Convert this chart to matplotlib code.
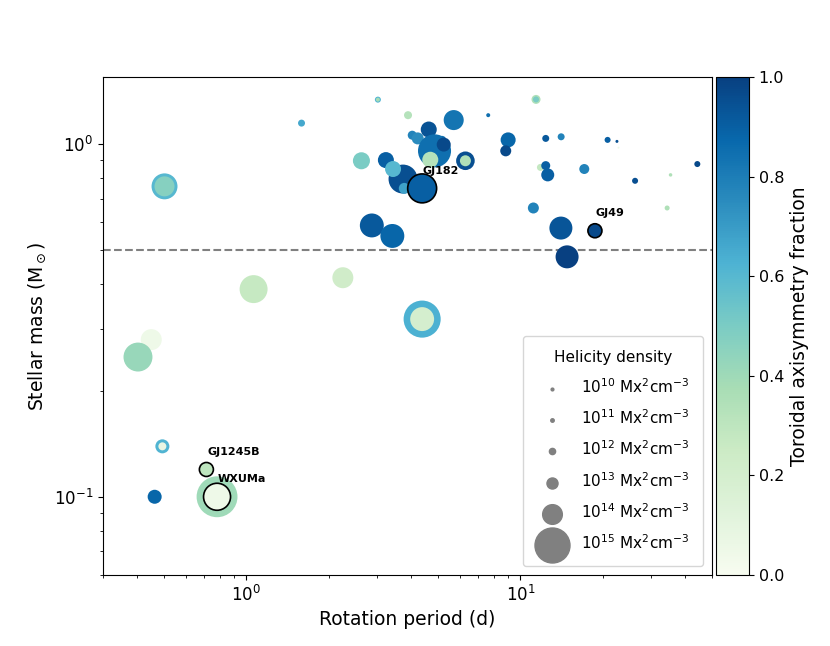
import numpy as np
import matplotlib
matplotlib.use('Agg')
import matplotlib.pyplot as plt

# main layer: rotation period (d), mass (Msun), log10 helicity density, toroidal axisym. fraction
period = [1.59, 3.02, 3.89, 0.503, 2.63, 3.23, 3.73, 3.43, 3.77,
          4.03, 4.22, 4.63, 5.71, 7.63, 4.86, 4.69, 5.18, 5.25, 6.30,
          11.4, 9.02, 8.84, 12.37, 14.08, 20.8, 22.5, 22.8, 44.2, 35.3,
          26.2, 17.1, 11.83, 12.37, 12.58, 11.15, 34.3, 14.05, 14.8,
          2.87, 3.41, 1.063, 2.25, 4.38, 0.450, 0.4025, 0.494, 0.463, 0.782]
mass = [1.147, 1.337, 1.208, 0.759, 0.897, 0.901, 0.796, 0.850, 0.749,
        1.06, 1.038, 1.10, 1.17, 1.208, 0.957, 0.903, 1.028, 0.997, 0.897,
        1.339, 1.028, 0.957, 1.038, 1.049, 1.028, 1.018, 0.977, 0.878, 0.818,
        0.787, 0.850, 0.859, 0.869, 0.818, 0.659, 0.659, 0.578, 0.479,
        0.588, 0.549, 0.388, 0.418, 0.319, 0.279, 0.249, 0.139, 0.100, 0.100]
log_hel = [12.2, 11.94, 12.44, 14.48, 13.75, 13.64, 14.67, 13.64, 12.99,
           12.64, 13.14, 13.64, 14.03, 11.23, 14.9, 13.64, 12.44, 13.41, 13.9,
           12.64, 13.53, 12.99, 12.2, 12.2, 11.94, 10.73, 10.03, 11.94, 11.0,
           11.94, 12.82, 12.2, 12.64, 13.28, 12.99, 11.62, 14.27, 14.27,
           14.34, 14.34, 14.61, 14.11, 15.1, 14.11, 14.67, 13.41, 13.41, 15.27]
tor_frac = [0.66, 0.62, 0.33, 0.6, 0.5, 0.9, 0.95, 0.6, 0.68,
            0.78, 0.75, 0.94, 0.83, 0.85, 0.85, 0.33, 0.85, 0.97, 0.95,
            0.35, 0.88, 0.97, 0.92, 0.78, 0.9, 0.95, 0.05, 0.97, 0.35,
            0.95, 0.78, 0.28, 0.9, 0.9, 0.78, 0.35, 0.93, 1.0,
            0.92, 0.88, 0.27, 0.23, 0.63, 0.05, 0.42, 0.62, 0.88, 0.4]

# second layer drawn on top (inner discs)
inner_period = [3.02, 0.503, 6.30, 11.4, 4.38, 0.494]
inner_mass = [1.337, 0.759, 0.897, 1.339, 0.319, 0.139]
inner_log_hel = [11.23, 14.03, 12.99, 11.94, 14.34, 12.44]
inner_frac = [0.38, 0.47, 0.35, 0.5, 0.2, 0.08]

# labelled stars
names = ['GJ182', 'GJ49', 'GJ1245B', 'WXUMa']
name_period = [4.38, 18.7, 0.715, 0.782]
name_mass = [0.749, 0.568, 0.1195, 0.100]
name_log_hel = [14.67, 13.41, 13.41, 14.55]
name_frac = [0.9, 0.97, 0.3, 0.05]

legend_log_hel = [10, 11, 12, 13, 14, 15]


def msize(lh):
    return 635 * 10 ** ((np.asarray(lh) - 15) / 2.0)


cmap = plt.get_cmap('GnBu')
fig = plt.figure(figsize=(8.3, 6.46), dpi=100)
ax = fig.add_axes([103/830, 71/646, 609/830, 498/646])
cax = fig.add_axes([716/830, 71/646, 33/830, 498/646])

ax.axhline(0.5, color='gray', ls='--', lw=1.5, zorder=0.5)
ax.scatter(period, mass, s=msize(log_hel), c=tor_frac, cmap=cmap, vmin=0, vmax=1,
           linewidths=0, zorder=2)
ax.scatter(inner_period, inner_mass, s=msize(inner_log_hel), c=inner_frac, cmap=cmap,
           vmin=0, vmax=1, linewidths=0, zorder=3)
ax.scatter(name_period, name_mass, s=msize(name_log_hel), c=name_frac, cmap=cmap,
           vmin=0, vmax=1, edgecolors='k', linewidths=1.2, zorder=4)
for n, p, m in zip(names, name_period, name_mass):
    ax.annotate(n, (p, m), xytext=(0.5, 10.5), textcoords='offset points',
                fontsize=8, fontweight='bold', ha='left', va='baseline', zorder=5)

for lh in legend_log_hel:
    ax.scatter([], [], s=max(msize(lh), 4), color='gray',
               label=r'$10^{%d}$ Mx$^2$cm$^{-3}$' % lh)
leg = ax.legend(loc='lower right', title='Helicity density', fontsize=11,
                title_fontsize=11, labelspacing=0.82, borderpad=0.9,
                handletextpad=0.9, borderaxespad=0.6)

ax.set_xscale('log')
ax.set_yscale('log')
ax.set_xlim(0.3, 50)
ax.set_ylim(0.06, 1.55)
ax.set_xlabel('Rotation period (d)', fontsize=13.5)
ax.set_ylabel(r'Stellar mass (M$_\odot$)', fontsize=13.5)
ax.tick_params(labelsize=12)

sm = plt.cm.ScalarMappable(cmap=cmap, norm=plt.Normalize(0, 1))
cb = fig.colorbar(sm, cax=cax)
cb.set_label('Toroidal axisymmetry fraction', fontsize=13.5)
cb.ax.tick_params(labelsize=11.5)

fig.savefig('out.png', dpi=100)
